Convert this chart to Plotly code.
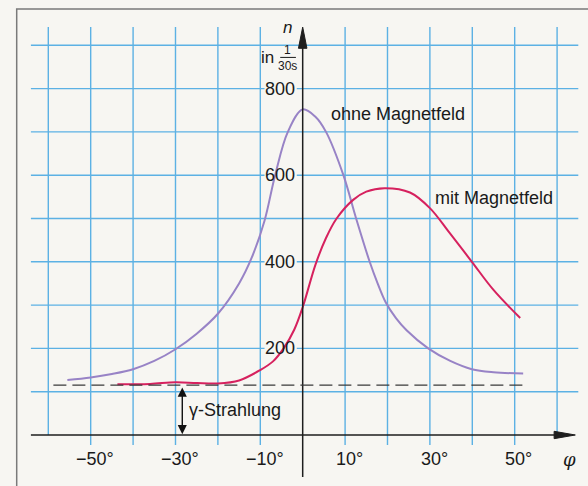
import plotly.graph_objects as go

# ---- data ----
phi_ohne = [-55.5, -50, -45, -40, -35, -30, -25, -20, -15, -12, -9, -6.5, -3.5, 0, 3,
            5.5, 9.6, 12.6, 15.8, 17.6, 19.6, 22, 24.5, 29.6, 34.8, 39.9, 45, 52]
n_ohne = [127, 133, 141, 152, 171, 198, 234, 280, 350, 410, 495, 600, 700, 752, 735,
          700, 600, 500, 400, 352, 306, 270, 242, 200, 171, 152, 145, 142]

phi_mit = [-43.7, -36, -30, -25, -20, -15, -10, -7, -4.5, -2, 0, 3, 5.5, 8, 11.9, 15, 19.3,
           25.3, 30, 34.7, 39.9, 45, 51.3]
n_mit = [117, 118, 122, 120, 119, 126, 150, 170, 200, 243, 295, 393, 455, 500, 543, 562, 570,
         560, 524, 466, 400, 335, 270]

gamma_level = 115
gamma_phi_range = [-58.8, 52.8]
gamma_arrow_phi = -28.4

x_ticks = [-50, -30, -10, 10, 30, 50]
x_tick_labels = ["−50°", "−30°", "−10°", "10°", "30°", "50°"]
y_ticks = [200, 400, 600, 800]
y_tick_labels = ["200", "400", "600", "800"]
grid_x = [-60, -50, -40, -30, -20, -10, 10, 20, 30, 40, 50, 60]
grid_y = [100, 200, 300, 400, 500, 600, 700, 800, 900]

label_ohne = "ohne Magnetfeld"
label_mit = "mit Magnetfeld"
label_gamma = "γ-Strahlung"

# ---- styling ----
BG = "#f7f6f2"
GRID = "#5cb1e4"
PURPLE = "#9883c6"
RED = "#d6215e"
AXIS = "#1e1e1e"
TXT = "#1a1a1a"
FONT = "Liberation Sans, Arial, sans-serif"

X_RANGE = [-71.39, 67.29]
Y_RANGE = [-117.8, 1004.6]

fig = go.Figure()

shapes = []
# frame of the figure box (paper coords)
shapes.append(dict(type="path", xref="paper", yref="paper",
                   path="M 0.0284,0 L 0.0284,0.9815 L 1.0,0.9815",
                   line=dict(color="#7a7a7a", width=1.5)))
# vertical grid lines
for gx in grid_x:
    bottom = 0 if abs(gx) == 60 else -23
    shapes.append(dict(type="line", xref="x", yref="y", x0=gx, x1=gx, y0=bottom, y1=942,
                       line=dict(color=GRID, width=1.4), layer="below"))
# horizontal grid lines
for gy in grid_y:
    shapes.append(dict(type="line", xref="x", yref="y", x0=-64.1, x1=65.0, y0=gy, y1=gy,
                       line=dict(color=GRID, width=1.4), layer="below"))
# blank patches behind the y tick labels (below the curves)
for yv in y_ticks:
    shapes.append(dict(type="rect", xref="x", yref="y", x0=-9.0, x1=-1.4, y0=yv - 17, y1=yv + 17,
                       fillcolor=BG, line=dict(width=0), layer="below"))
# axes
shapes.append(dict(type="line", xref="x", yref="y", x0=-64.1, x1=60, y0=0, y1=0,
                   line=dict(color=AXIS, width=1.5)))
shapes.append(dict(type="line", xref="x", yref="y", x0=0, x1=0, y0=-97, y1=900,
                   line=dict(color=AXIS, width=1.5)))
# arrowheads
shapes.append(dict(type="path", xref="x", yref="y",
                   path="M 64.3,0 L 59.3,8.5 L 59.3,-8.5 Z",
                   fillcolor=AXIS, line=dict(color=AXIS, width=1)))
shapes.append(dict(type="path", xref="x", yref="y",
                   path="M 0,942 L -1.0,893 L 1.0,893 Z",
                   fillcolor=AXIS, line=dict(color=AXIS, width=1)))
# gamma baseline (dashed)
shapes.append(dict(type="line", xref="x", yref="y", x0=gamma_phi_range[0], x1=gamma_phi_range[1],
                   y0=gamma_level, y1=gamma_level,
                   line=dict(color="#3a3a3a", width=1.3, dash="13px,6px")))

fig.add_trace(go.Scatter(x=phi_ohne, y=n_ohne, mode="lines",
                         line=dict(color=PURPLE, width=2, shape="spline", smoothing=1.0),
                         hoverinfo="skip", showlegend=False))
fig.add_trace(go.Scatter(x=phi_mit, y=n_mit, mode="lines",
                         line=dict(color=RED, width=2, shape="spline", smoothing=1.0),
                         hoverinfo="skip", showlegend=False))

ann = []
for xv, t in zip(x_ticks, x_tick_labels):
    ann.append(dict(x=xv + 1.0, y=-56, xref="x", yref="y", text=t, showarrow=False,
                    xanchor="center", yanchor="middle", font=dict(family=FONT, size=18, color=TXT)))
for yv, t in zip(y_ticks, y_tick_labels):
    ann.append(dict(x=-1.4, y=yv, xref="x", yref="y", text=t, showarrow=False,
                    xanchor="right", yanchor="middle",
                    font=dict(family=FONT, size=18, color=TXT)))
# axis titles
ann.append(dict(x=63.0, y=-56, xref="x", yref="y", text="<i>φ</i>", showarrow=False,
                xanchor="center", yanchor="middle",
                font=dict(family="DejaVu Serif, serif", size=18, color=TXT)))
ann.append(dict(x=-3.7, y=940, xref="x", yref="y", text="<i>n</i>", showarrow=False,
                xanchor="center", yanchor="middle", font=dict(family=FONT, size=17, color=TXT)))
ann.append(dict(x=-6.3, y=872, xref="x", yref="y", text="in", showarrow=False,
                xanchor="right", yanchor="middle", font=dict(family=FONT, size=17, color=TXT)))
ann.append(dict(x=-3.6, y=889, xref="x", yref="y", text="1", showarrow=False,
                xanchor="center", yanchor="middle", font=dict(family=FONT, size=12, color=TXT)))
ann.append(dict(x=-3.6, y=853, xref="x", yref="y", text="30s", showarrow=False,
                xanchor="center", yanchor="middle", font=dict(family=FONT, size=12, color=TXT)))
shapes.append(dict(type="line", xref="x", yref="y", x0=-5.3, x1=-1.6, y0=872, y1=872,
                   line=dict(color=TXT, width=1)))
# curve labels
ann.append(dict(x=6.2, y=741, xref="x", yref="y", text=label_ohne, showarrow=False,
                xanchor="left", yanchor="middle", font=dict(family=FONT, size=18, color=TXT)))
ann.append(dict(x=30.7, y=547, xref="x", yref="y", text=label_mit, showarrow=False,
                xanchor="left", yanchor="middle", font=dict(family=FONT, size=18, color=TXT)))
# gamma double arrow + label
ann.append(dict(x=gamma_arrow_phi, y=2, ax=gamma_arrow_phi, ay=gamma_level - 2,
                xref="x", yref="y", axref="x", ayref="y", text="", showarrow=True,
                arrowhead=2, startarrowhead=2, arrowside="end+start", arrowsize=1.3,
                arrowwidth=1.4, arrowcolor="#111"))
ann.append(dict(x=-27.4, y=58, xref="x", yref="y", text=label_gamma, showarrow=False,
                xanchor="left", yanchor="middle", font=dict(family=FONT, size=18, color=TXT)))

fig.update_layout(
    width=588, height=486,
    margin=dict(l=0, r=0, t=0, b=0),
    paper_bgcolor=BG, plot_bgcolor=BG,
    xaxis=dict(range=X_RANGE, visible=False, fixedrange=True),
    yaxis=dict(range=Y_RANGE, visible=False, fixedrange=True),
    shapes=shapes, annotations=ann,
    showlegend=False,
)

fig.write_html("out.html", config={"displayModeBar": False},
               post_script="document.body.style.margin='0';document.body.style.overflow='hidden';")
